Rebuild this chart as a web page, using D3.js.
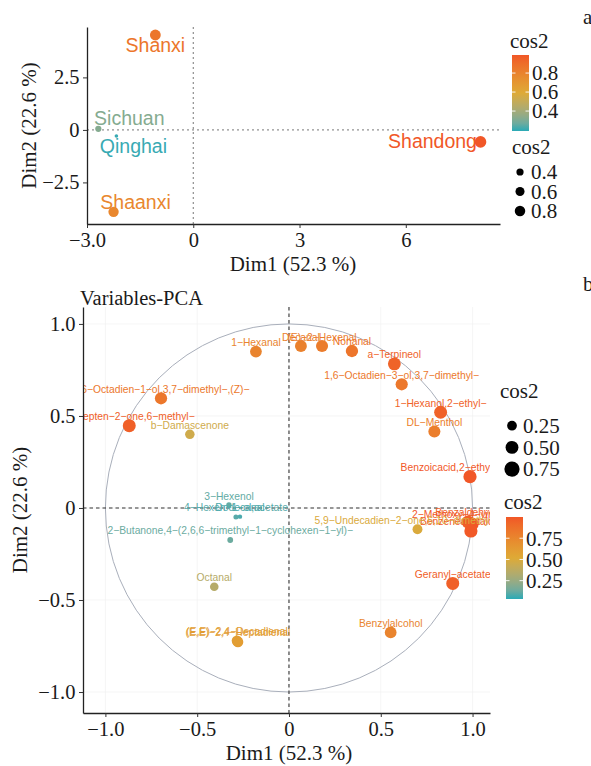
<!DOCTYPE html>
<html>
<head>
<meta charset="utf-8">
<script src="https://cdn.jsdelivr.net/npm/d3@7"></script>
<style>
  body { margin: 0; background: #fff; }
  svg { display: block; }
</style>
</head>
<body>
<div id="chart"></div>
<script>
// individuals (panel a)
const indNames = ["Shanxi", "Sichuan", "Qinghai", "Shaanxi", "Shandong"];
const indDim1 = [-1.07, -2.68, -2.17, -2.25, 8.11];
const indDim2 = [4.52, 0.05, -0.29, -3.90, -0.57];
const indCos2 = [0.86, 0.32, 0.20, 0.78, 0.99];

// variables (panel b)
const varNames = [
  "1-Hexanal", "Decanal", "(E)-2-Hexenal", "Nonanal", "a-Terpineol",
  "1,6-Octadien-3-ol,3,7-dimethyl-", "1-Hexanol,2-ethyl-", "DL-Menthol",
  "Benzoicacid,2-ethylhexylester", "2-Methoxy-4-vinylphenol", "Benzaldehyde",
  "Benzeneacetaldehyde", "5,9-Undecadien-2-one,6,10-dimethyl-,(E)-",
  "Geranyl-acetate", "Benzylalcohol", "(E,E)-2,4-Heptadienal",
  "(E,E)-2,4-Decadienal", "Octanal",
  "2-Butanone,4-(2,6,6-trimethyl-1-cyclohexen-1-yl)-", "3-Hexenol",
  "4-Hexen-1-ol,acetate", "Dodecanal",
  "2,6-Octadien-1-ol,3,7-dimethyl-,(Z)-", "5-Hepten-2-one,6-methyl-",
  "b-Damascenone"
];
const varDim1 = [-0.18, 0.065, 0.18, 0.343, 0.574, 0.614, 0.826, 0.792, 0.986, 0.997, 0.975,
  0.991, 0.70, 0.892, 0.554, -0.278, -0.283, -0.407, -0.32, -0.327, -0.289, -0.267,
  -0.697, -0.87, -0.54];
const varDim2 = [0.85, 0.88, 0.88, 0.853, 0.783, 0.672, 0.52, 0.415, 0.17, -0.087, -0.076,
  -0.125, -0.116, -0.41, -0.676, -0.728, -0.722, -0.428, -0.174, 0.016, -0.049, -0.047,
  0.596, 0.447, 0.40];
const varCos2 = [0.76, 0.78, 0.81, 0.85, 0.94, 0.83, 0.95, 0.80, 1.00, 1.00, 0.96,
  0.99, 0.50, 0.96, 0.76, 0.61, 0.60, 0.35, 0.13, 0.11, 0.09, 0.07,
  0.84, 0.96, 0.45];

// ticks and legend breaks
const indTicksX = [-3, 0, 3, 6];
const indTickLabelsX = ["\u22123.0", "0", "3", "6"];
const indTicksY = [-2.5, 0, 2.5];
const indTickLabelsY = ["\u22122.5", "0", "2.5"];
const varTicks = [-1, -0.5, 0, 0.5, 1];
const varTickLabels = ["\u22121.0", "\u22120.5", "0", "0.5", "1.0"];
const indLegendBreaks = [0.4, 0.6, 0.8];
const varLegendBreaks = [0.25, 0.5, 0.75];
const indCos2Limits = [0.19, 0.99];
const varCos2Limits = [0.034, 1.0];

const gradCols = ["#2AAAB6", "#DEAA36", "#F15727"];
const serif = '"Liberation Serif", "Times New Roman", serif';
const sans = '"Liberation Sans", Arial, sans-serif';

// label offsets of the repelled labels in panel a (px)
const indLabelNudge = {
  Shanxi: [0, 17], Sichuan: [31, -4], Qinghai: [17, 17], Shaanxi: [22, -3], Shandong: [-48, 6]
};

const svg = d3.select("#chart").append("svg")
    .attr("width", 591)
    .attr("height", 766);

function colorScale(limits) {
  const mid = (limits[0] + limits[1]) / 2;
  return d3.scaleLinear()
    .domain([limits[0], mid, limits[1]])
    .range(gradCols)
    .interpolate(d3.interpolateLab)
    .clamp(true);
}

function sizeScale(limits, rmin, rmax) {
  const n = d3.scaleLinear().domain(limits).range([0, 1]).clamp(true);
  const r = d3.scaleLinear().domain([0, 1]).range([rmin, rmax]);
  return v => r(Math.sqrt(n(v)));
}

function axes(g, x, y, xt, xl, yt, yl) {
  const x0 = x.range()[0], y0 = y.range()[0];
  g.append("g")
      .attr("transform", `translate(0,${y0})`)
      .call(d3.axisBottom(x).tickValues(xt).tickFormat((d, i) => xl[i])
        .tickSize(4).tickSizeOuter(0).tickPadding(4));
  g.append("g")
      .attr("transform", `translate(${x0},0)`)
      .call(d3.axisLeft(y).tickValues(yt).tickFormat((d, i) => yl[i])
        .tickSize(4).tickSizeOuter(0).tickPadding(3.5));
  g.selectAll(".domain").attr("stroke", "#222").attr("stroke-width", 1.3);
  g.selectAll(".tick line").attr("stroke", "#333").attr("stroke-width", 1);
  g.selectAll(".tick text")
      .attr("font-family", serif)
      .attr("font-size", 20.5)
      .attr("fill", "#1a1a1a");
}

function colorLegend(g, id, color, limits, breaks, fmt, x, y, h, titleY) {
  const bw = 17;
  const ly = d3.scaleLinear().domain(limits).range([y + h, y]);
  const grad = svg.append("defs").append("linearGradient")
      .attr("id", id).attr("x1", 0).attr("y1", 1).attr("x2", 0).attr("y2", 0);
  d3.range(0, 1.0001, 0.1).forEach(t => {
    grad.append("stop")
      .attr("offset", t)
      .attr("stop-color", color(limits[0] + t * (limits[1] - limits[0])));
  });
  g.append("text")
      .attr("x", x - 2).attr("y", titleY)
      .attr("font-family", serif).attr("font-size", 21).attr("fill", "#1a1a1a")
      .text("cos2");
  g.append("rect")
      .attr("x", x).attr("y", y).attr("width", bw).attr("height", h)
      .attr("fill", `url(#${id})`);
  breaks.forEach(b => {
    [[x, x + 3.5], [x + bw - 3.5, x + bw]].forEach(([a, c]) => {
      g.append("line")
        .attr("x1", a).attr("x2", c).attr("y1", ly(b)).attr("y2", ly(b))
        .attr("stroke", "#fff").attr("stroke-width", 0.9);
    });
  });
  g.selectAll(null).data(breaks).join("text")
      .attr("x", x + bw + 3).attr("y", d => ly(d)).attr("dy", "0.35em")
      .attr("font-family", serif).attr("font-size", 21).attr("fill", "#1a1a1a")
      .text(d => fmt(d));
}

function sizeLegend(g, size, breaks, fmt, cx, cy0, step, titleX, titleY, mult) {
  g.append("text")
      .attr("x", titleX).attr("y", titleY)
      .attr("font-family", serif).attr("font-size", 21).attr("fill", "#1a1a1a")
      .text("cos2");
  breaks.forEach((b, i) => {
    g.append("circle")
      .attr("cx", cx).attr("cy", cy0 + i * step)
      .attr("r", size(b) * mult).attr("fill", "#000");
    g.append("text")
      .attr("x", cx + 11).attr("y", cy0 + i * step).attr("dy", "0.35em")
      .attr("font-family", serif).attr("font-size", 21).attr("fill", "#1a1a1a")
      .text(fmt(b));
  });
}

// ---------- panel a: individuals ----------
{
  const g = svg.append("g");
  const x = d3.scaleLinear().domain([-3.0, 8.66]).range([87, 500]);
  const y = d3.scaleLinear().domain([-4.48, 4.9]).range([224, 27]);
  const color = colorScale(indCos2Limits);
  const size = sizeScale(indCos2Limits, 1.3, 5.8);

  svg.append("defs").append("clipPath").attr("id", "clipA")
    .append("rect").attr("x", 87).attr("y", 27).attr("width", 413).attr("height", 197);
  const p = g.append("g").attr("clip-path", "url(#clipA)");

  p.append("line")
      .attr("x1", x(0)).attr("x2", x(0)).attr("y1", 27).attr("y2", 224)
      .attr("stroke", "#777").attr("stroke-width", 1).attr("stroke-dasharray", "2,3");
  p.append("line")
      .attr("x1", 87).attr("x2", 500).attr("y1", y(0)).attr("y2", y(0))
      .attr("stroke", "#777").attr("stroke-width", 1).attr("stroke-dasharray", "2,3");

  const ind = indNames.map((n, i) => ({name: n, x: indDim1[i], y: indDim2[i], c: indCos2[i]}));

  p.selectAll(".lab").data(ind).join("text")
      .attr("x", d => x(d.x) + indLabelNudge[d.name][0])
      .attr("y", d => y(d.y) + indLabelNudge[d.name][1])
      .attr("text-anchor", "middle")
      .attr("font-family", sans).attr("font-size", 19.5)
      .attr("fill", d => color(d.c))
      .text(d => d.name);

  p.selectAll("circle").data(ind).join("circle")
      .attr("cx", d => x(d.x)).attr("cy", d => y(d.y))
      .attr("r", d => size(d.c))
      .attr("fill", d => color(d.c));

  axes(g, x, y, indTicksX, indTickLabelsX, indTicksY, indTickLabelsY);

  g.append("text")
      .attr("x", 293).attr("y", 271).attr("text-anchor", "middle")
      .attr("font-family", serif).attr("font-size", 21).attr("fill", "#1a1a1a")
      .text("Dim1 (52.3 %)");
  g.append("text")
      .attr("transform", "translate(36,125.5) rotate(-90)").attr("text-anchor", "middle")
      .attr("font-family", serif).attr("font-size", 21).attr("fill", "#1a1a1a")
      .text("Dim2 (22.6 %)");

  colorLegend(g, "gradA", color, indCos2Limits, indLegendBreaks, d3.format(".1f"), 512, 55, 76, 48);
  sizeLegend(g, size, indLegendBreaks, d3.format(".1f"), 520, 172, 19.5, 512, 154, 1);

  g.append("text")
      .attr("x", 583).attr("y", 24)
      .attr("font-family", serif).attr("font-size", 21).attr("fill", "#1a1a1a")
      .text("a");
}

// ---------- panel b: variables ----------
{
  const g = svg.append("g");
  const x = d3.scaleLinear().domain([-1.122, 1.095]).range([83, 490]);
  const y = d3.scaleLinear().domain([-1.114, 1.092]).range([713, 307]);
  const color = colorScale(varCos2Limits);
  const size = sizeScale(varCos2Limits, 1.2, 6.6);

  svg.append("defs").append("clipPath").attr("id", "clipB")
    .append("rect").attr("x", 83).attr("y", 307).attr("width", 407).attr("height", 406);
  const p = g.append("g").attr("clip-path", "url(#clipB)");

  // faint grid
  p.selectAll(".gx").data(varTicks).join("line")
      .attr("x1", d => x(d)).attr("x2", d => x(d)).attr("y1", 307).attr("y2", 713)
      .attr("stroke", "#f0f0f0").attr("stroke-width", 0.7);
  p.selectAll(".gy").data(varTicks).join("line")
      .attr("y1", d => y(d)).attr("y2", d => y(d)).attr("x1", 83).attr("x2", 490)
      .attr("stroke", "#f0f0f0").attr("stroke-width", 0.7);

  p.append("ellipse")
      .attr("cx", x(0)).attr("cy", y(0))
      .attr("rx", x(1) - x(0)).attr("ry", y(0) - y(1))
      .attr("fill", "none").attr("stroke", "#a9afbb").attr("stroke-width", 1);

  p.append("line")
      .attr("x1", x(0)).attr("x2", x(0)).attr("y1", 307).attr("y2", 713)
      .attr("stroke", "#333").attr("stroke-width", 1.1).attr("stroke-dasharray", "3.5,3");
  p.append("line")
      .attr("x1", 83).attr("x2", 490).attr("y1", y(0)).attr("y2", y(0))
      .attr("stroke", "#333").attr("stroke-width", 1.1).attr("stroke-dasharray", "3.5,3");

  const vars = varNames.map((n, i) => ({name: n, x: varDim1[i], y: varDim2[i], c: varCos2[i]}));

  p.selectAll("circle.pt").data(vars).join("circle")
      .attr("class", "pt")
      .attr("cx", d => x(d.x)).attr("cy", d => y(d.y))
      .attr("r", d => size(d.c))
      .attr("fill", d => color(d.c));

  p.selectAll("text.lab").data(vars).join("text")
      .attr("class", "lab")
      .attr("x", d => x(d.x)).attr("y", d => y(d.y) - 5.5)
      .attr("text-anchor", "middle")
      .attr("font-family", sans).attr("font-size", 10.3)
      .attr("fill", d => color(d.c))
      .text(d => d.name.replace(/-/g, "\u2212"));

  axes(g, x, y, varTicks, varTickLabels, varTicks, varTickLabels);

  g.append("text")
      .attr("x", 80).attr("y", 305)
      .attr("font-family", serif).attr("font-size", 20.5).attr("fill", "#1a1a1a")
      .text("Variables-PCA");
  g.append("text")
      .attr("x", 289).attr("y", 760).attr("text-anchor", "middle")
      .attr("font-family", serif).attr("font-size", 21).attr("fill", "#1a1a1a")
      .text("Dim1 (52.3 %)");
  g.append("text")
      .attr("transform", "translate(27,510) rotate(-90)").attr("text-anchor", "middle")
      .attr("font-family", serif).attr("font-size", 21).attr("fill", "#1a1a1a")
      .text("Dim2 (22.6 %)");

  sizeLegend(g, size, varLegendBreaks, d3.format(".2f"), 512, 425.7, 21.7, 500, 398, 1.3);
  colorLegend(g, "gradB", color, varCos2Limits, varLegendBreaks, d3.format(".2f"), 506, 517, 82, 509);

  g.append("text")
      .attr("x", 583).attr("y", 291)
      .attr("font-family", serif).attr("font-size", 21).attr("fill", "#1a1a1a")
      .text("b");
}
</script>
</body>
</html>
